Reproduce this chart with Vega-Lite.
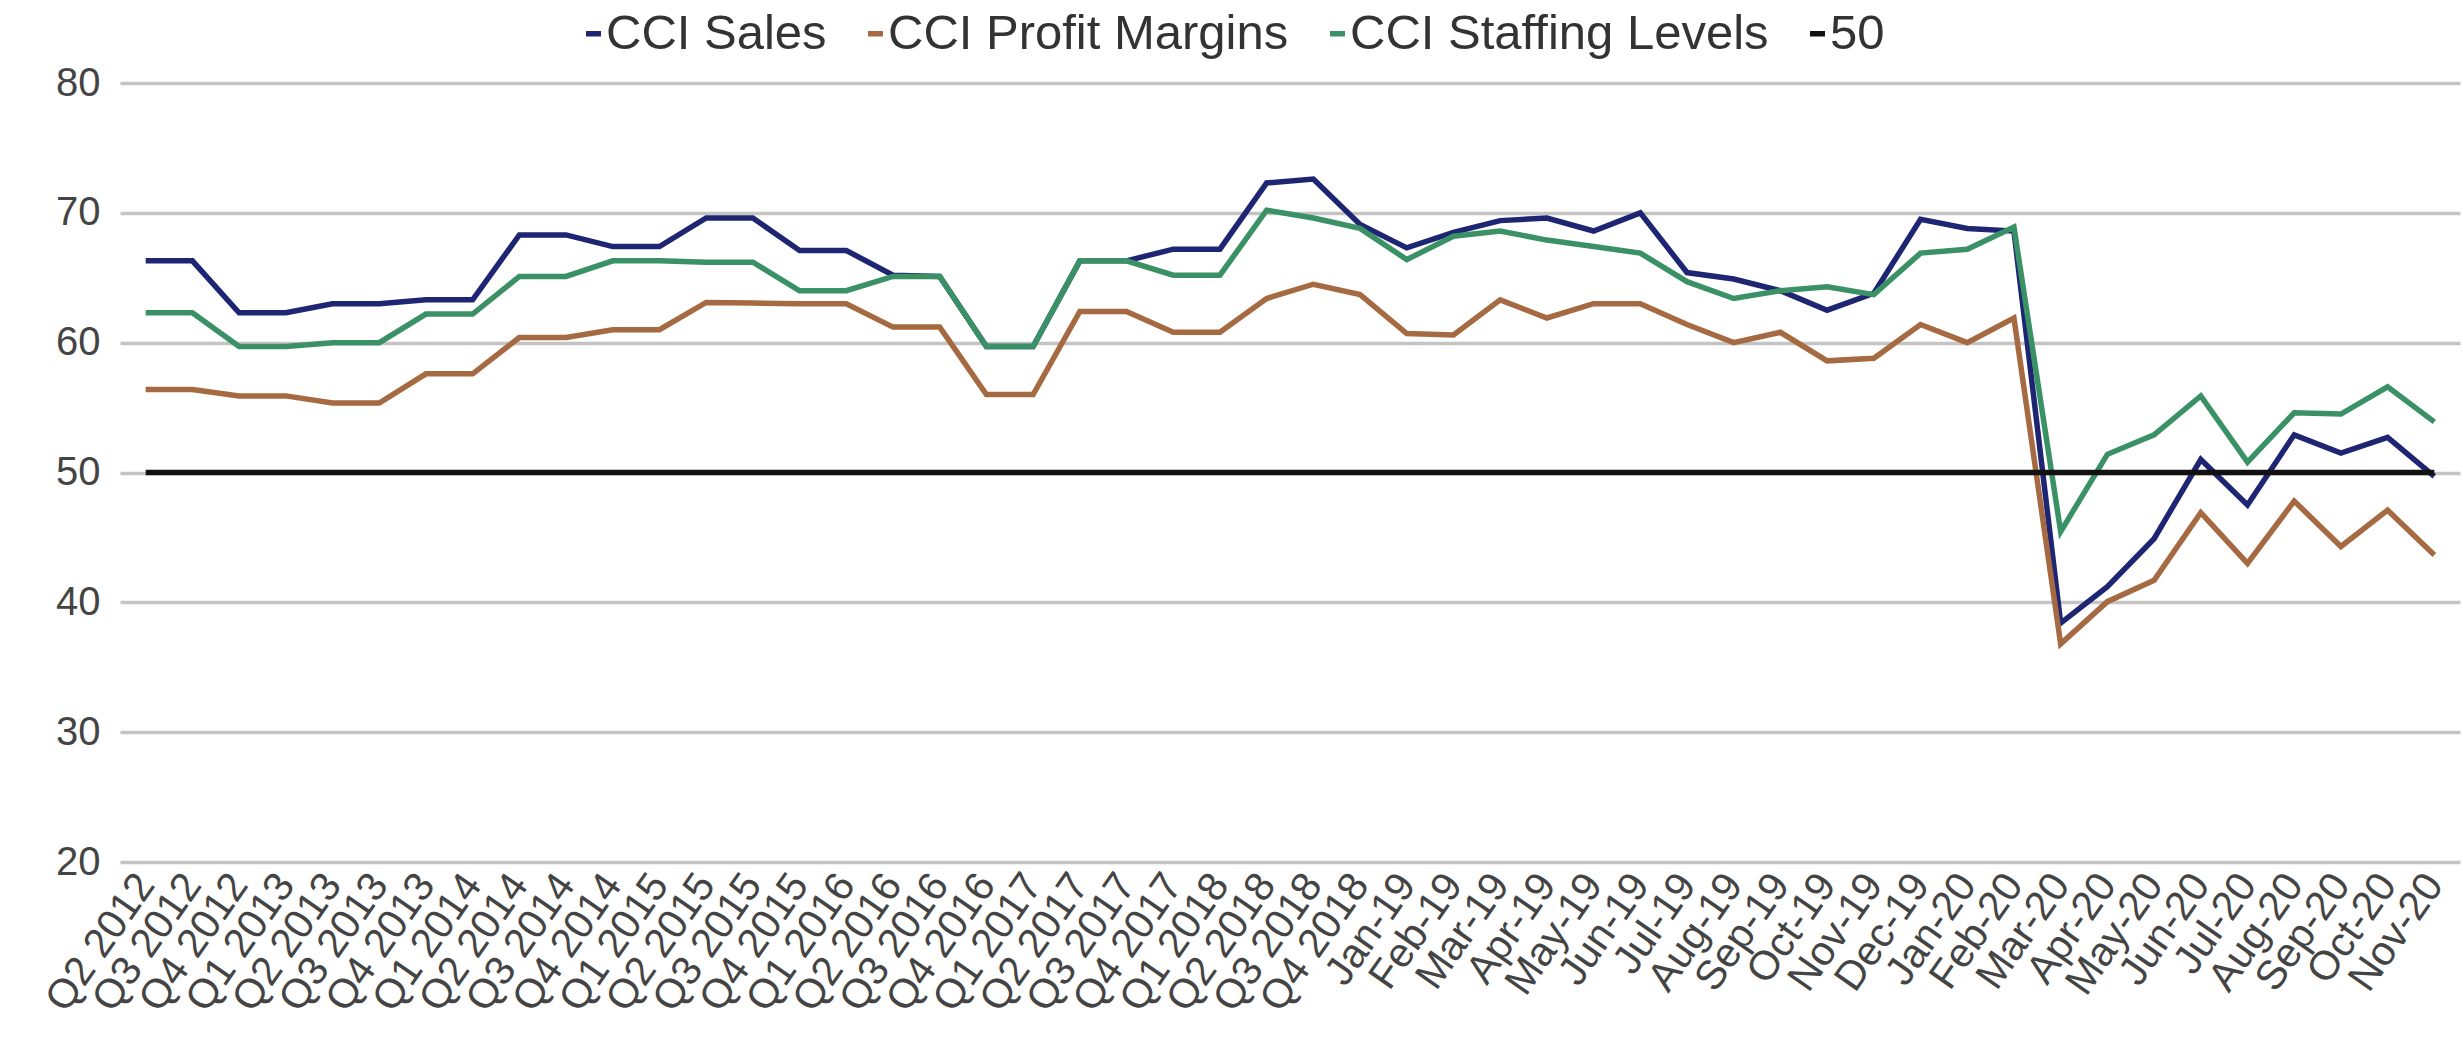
{
  "$schema": "https://vega.github.io/schema/vega-lite/v6.json",
  "width": 2340,
  "height": 779,
  "autosize": "none",
  "padding": {"left": 120, "top": 83, "right": 3, "bottom": 181},
  "background": "white",
  "data": {
    "values": [
      {"period": "Q2 2012", "CCI Sales": 66.3, "CCI Profit Margins": 56.4, "CCI Staffing Levels": 62.3, "50": 50},
      {"period": "Q3 2012", "CCI Sales": 66.3, "CCI Profit Margins": 56.4, "CCI Staffing Levels": 62.3, "50": 50},
      {"period": "Q4 2012", "CCI Sales": 62.3, "CCI Profit Margins": 55.9, "CCI Staffing Levels": 59.7, "50": 50},
      {"period": "Q1 2013", "CCI Sales": 62.3, "CCI Profit Margins": 55.9, "CCI Staffing Levels": 59.7, "50": 50},
      {"period": "Q2 2013", "CCI Sales": 63.0, "CCI Profit Margins": 55.35, "CCI Staffing Levels": 60.0, "50": 50},
      {"period": "Q3 2013", "CCI Sales": 63.0, "CCI Profit Margins": 55.35, "CCI Staffing Levels": 60.0, "50": 50},
      {"period": "Q4 2013", "CCI Sales": 63.3, "CCI Profit Margins": 57.6, "CCI Staffing Levels": 62.2, "50": 50},
      {"period": "Q1 2014", "CCI Sales": 63.3, "CCI Profit Margins": 57.6, "CCI Staffing Levels": 62.2, "50": 50},
      {"period": "Q2 2014", "CCI Sales": 68.3, "CCI Profit Margins": 60.4, "CCI Staffing Levels": 65.1, "50": 50},
      {"period": "Q3 2014", "CCI Sales": 68.3, "CCI Profit Margins": 60.4, "CCI Staffing Levels": 65.1, "50": 50},
      {"period": "Q4 2014", "CCI Sales": 67.4, "CCI Profit Margins": 61.0, "CCI Staffing Levels": 66.3, "50": 50},
      {"period": "Q1 2015", "CCI Sales": 67.4, "CCI Profit Margins": 61.0, "CCI Staffing Levels": 66.3, "50": 50},
      {"period": "Q2 2015", "CCI Sales": 69.6, "CCI Profit Margins": 63.1, "CCI Staffing Levels": 66.2, "50": 50},
      {"period": "Q3 2015", "CCI Sales": 69.6, "CCI Profit Margins": 63.05, "CCI Staffing Levels": 66.2, "50": 50},
      {"period": "Q4 2015", "CCI Sales": 67.1, "CCI Profit Margins": 63.0, "CCI Staffing Levels": 64.0, "50": 50},
      {"period": "Q1 2016", "CCI Sales": 67.1, "CCI Profit Margins": 63.0, "CCI Staffing Levels": 64.0, "50": 50},
      {"period": "Q2 2016", "CCI Sales": 65.2, "CCI Profit Margins": 61.2, "CCI Staffing Levels": 65.1, "50": 50},
      {"period": "Q3 2016", "CCI Sales": 65.1, "CCI Profit Margins": 61.2, "CCI Staffing Levels": 65.1, "50": 50},
      {"period": "Q4 2016", "CCI Sales": 59.7, "CCI Profit Margins": 56.0, "CCI Staffing Levels": 59.7, "50": 50},
      {"period": "Q1 2017", "CCI Sales": 59.7, "CCI Profit Margins": 56.0, "CCI Staffing Levels": 59.7, "50": 50},
      {"period": "Q2 2017", "CCI Sales": 66.3, "CCI Profit Margins": 62.4, "CCI Staffing Levels": 66.3, "50": 50},
      {"period": "Q3 2017", "CCI Sales": 66.3, "CCI Profit Margins": 62.4, "CCI Staffing Levels": 66.3, "50": 50},
      {"period": "Q4 2017", "CCI Sales": 67.2, "CCI Profit Margins": 60.8, "CCI Staffing Levels": 65.2, "50": 50},
      {"period": "Q1 2018", "CCI Sales": 67.2, "CCI Profit Margins": 60.8, "CCI Staffing Levels": 65.2, "50": 50},
      {"period": "Q2 2018", "CCI Sales": 72.3, "CCI Profit Margins": 63.4, "CCI Staffing Levels": 70.2, "50": 50},
      {"period": "Q3 2018", "CCI Sales": 72.6, "CCI Profit Margins": 64.5, "CCI Staffing Levels": 69.6, "50": 50},
      {"period": "Q4 2018", "CCI Sales": 69.1, "CCI Profit Margins": 63.7, "CCI Staffing Levels": 68.8, "50": 50},
      {"period": "Jan-19", "CCI Sales": 67.3, "CCI Profit Margins": 60.7, "CCI Staffing Levels": 66.4, "50": 50},
      {"period": "Feb-19", "CCI Sales": 68.5, "CCI Profit Margins": 60.6, "CCI Staffing Levels": 68.2, "50": 50},
      {"period": "Mar-19", "CCI Sales": 69.4, "CCI Profit Margins": 63.3, "CCI Staffing Levels": 68.6, "50": 50},
      {"period": "Apr-19", "CCI Sales": 69.6, "CCI Profit Margins": 61.9, "CCI Staffing Levels": 67.9, "50": 50},
      {"period": "May-19", "CCI Sales": 68.6, "CCI Profit Margins": 63.0, "CCI Staffing Levels": 67.4, "50": 50},
      {"period": "Jun-19", "CCI Sales": 70.0, "CCI Profit Margins": 63.0, "CCI Staffing Levels": 66.9, "50": 50},
      {"period": "Jul-19", "CCI Sales": 65.4, "CCI Profit Margins": 61.4, "CCI Staffing Levels": 64.7, "50": 50},
      {"period": "Aug-19", "CCI Sales": 64.9, "CCI Profit Margins": 60.0, "CCI Staffing Levels": 63.4, "50": 50},
      {"period": "Sep-19", "CCI Sales": 64.0, "CCI Profit Margins": 60.8, "CCI Staffing Levels": 64.0, "50": 50},
      {"period": "Oct-19", "CCI Sales": 62.5, "CCI Profit Margins": 58.6, "CCI Staffing Levels": 64.3, "50": 50},
      {"period": "Nov-19", "CCI Sales": 63.8, "CCI Profit Margins": 58.8, "CCI Staffing Levels": 63.7, "50": 50},
      {"period": "Dec-19", "CCI Sales": 69.5, "CCI Profit Margins": 61.4, "CCI Staffing Levels": 66.9, "50": 50},
      {"period": "Jan-20", "CCI Sales": 68.8, "CCI Profit Margins": 60.0, "CCI Staffing Levels": 67.2, "50": 50},
      {"period": "Feb-20", "CCI Sales": 68.6, "CCI Profit Margins": 61.9, "CCI Staffing Levels": 68.9, "50": 50},
      {"period": "Mar-20", "CCI Sales": 38.4, "CCI Profit Margins": 36.8, "CCI Staffing Levels": 45.45, "50": 50},
      {"period": "Apr-20", "CCI Sales": 41.2, "CCI Profit Margins": 40.05, "CCI Staffing Levels": 51.4, "50": 50},
      {"period": "May-20", "CCI Sales": 44.9, "CCI Profit Margins": 41.7, "CCI Staffing Levels": 52.9, "50": 50},
      {"period": "Jun-20", "CCI Sales": 51.0, "CCI Profit Margins": 46.9, "CCI Staffing Levels": 55.9, "50": 50},
      {"period": "Jul-20", "CCI Sales": 47.5, "CCI Profit Margins": 43.0, "CCI Staffing Levels": 50.8, "50": 50},
      {"period": "Aug-20", "CCI Sales": 52.9, "CCI Profit Margins": 47.8, "CCI Staffing Levels": 54.6, "50": 50},
      {"period": "Sep-20", "CCI Sales": 51.5, "CCI Profit Margins": 44.3, "CCI Staffing Levels": 54.5, "50": 50},
      {"period": "Oct-20", "CCI Sales": 52.7, "CCI Profit Margins": 47.1, "CCI Staffing Levels": 56.6, "50": 50},
      {"period": "Nov-20", "CCI Sales": 49.7, "CCI Profit Margins": 43.65, "CCI Staffing Levels": 53.9, "50": 50}
    ]
  },
  "transform": [
    {"fold": ["CCI Sales", "CCI Profit Margins", "CCI Staffing Levels", "50"], "as": ["series", "value"]}
  ],
  "mark": {"type": "line", "strokeJoin": "miter"},
  "encoding": {
    "x": {
      "field": "period",
      "type": "ordinal",
      "sort": null,
      "scale": {"type": "point", "padding": 0.55},
      "axis": {
        "title": null,
        "labelAngle": -55,
        "labelFontSize": 41,
        "labelFont": "Liberation Sans",
        "labelColor": "#444444",
        "ticks": false,
        "domain": false,
        "grid": false,
        "labelOverlap": false,
        "labelBound": false,
        "labelPadding": 16,
        "labelLimit": 600
      }
    },
    "y": {
      "field": "value",
      "type": "quantitative",
      "scale": {"domain": [20, 80], "nice": false, "zero": false},
      "axis": {
        "title": null,
        "values": [20, 30, 40, 50, 60, 70, 80],
        "labelFontSize": 40,
        "labelFont": "Liberation Sans",
        "labelColor": "#444444",
        "labelPadding": 20,
        "domain": false,
        "ticks": false,
        "gridColor": "#c4c4c4",
        "gridWidth": 3.5
      }
    },
    "strokeWidth": {
      "field": "series",
      "type": "nominal",
      "scale": {
        "domain": ["CCI Sales", "CCI Profit Margins", "CCI Staffing Levels", "50"],
        "range": [5.5, 5.5, 6, 5.5]
      },
      "legend": null
    },
    "color": {
      "field": "series",
      "type": "nominal",
      "scale": {
        "domain": ["CCI Sales", "CCI Profit Margins", "CCI Staffing Levels", "50"],
        "range": ["#1e2573", "#a66a42", "#3b9166", "#111111"]
      },
      "legend": {
        "title": null,
        "orient": "none",
        "legendX": 449,
        "legendY": -74,
        "direction": "horizontal",
        "symbolType": "stroke",
        "symbolSize": 225,
        "symbolStrokeWidth": 7,
        "labelFontSize": 49,
        "labelFont": "Liberation Sans",
        "labelColor": "#333333",
        "labelOffset": -12,
        "labelLimit": 1000,
        "columnPadding": 24
      }
    }
  },
  "config": {"view": {"stroke": null}}
}
